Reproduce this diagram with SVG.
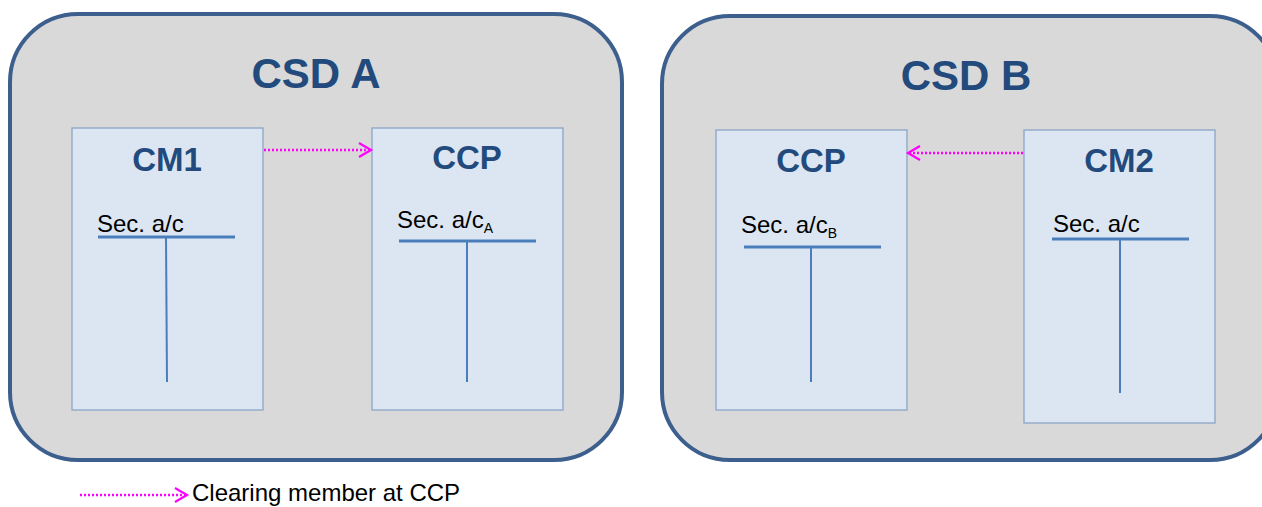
<svg xmlns="http://www.w3.org/2000/svg" width="1262" height="507" viewBox="0 0 1262 507">
  <style>
    .csd { fill: #d9d9d9; stroke: #3d5f8e; stroke-width: 4; }
    .box { fill: #dce6f2; stroke: #8ca5c6; stroke-width: 1.3; }
    .title { font-family: "Liberation Sans", Arial, sans-serif; font-weight: bold; fill: #224a7c; text-anchor: middle; }
    .big { font-size: 42px; }
    .mid { font-size: 33px; }
    .lbl { font-family: "Liberation Sans", Arial, sans-serif; font-size: 24px; fill: #000; }
    .sub { font-size: 14px; }
    .tline { stroke: #4a7ebb; stroke-width: 3; fill: none; }
    .vline { stroke: #4a7ebb; stroke-width: 2; fill: none; }
    .link { stroke: #ff00ff; stroke-width: 2.5; stroke-dasharray: 2 2; fill: none; }
  </style>
  <defs>
    <marker id="chev" markerWidth="16" markerHeight="16" refX="13" refY="8" orient="auto" markerUnits="userSpaceOnUse">
      <path d="M1,1 L13,8 L1,15" fill="none" stroke="#ff00ff" stroke-width="2.2"/>
    </marker>
  </defs>

  <g id="csd-a">
    <rect class="csd" x="10" y="14" width="612" height="446" rx="68" ry="68"/>
    <text class="title big" x="316" y="88">CSD A</text>
  </g>
  <g id="csd-b">
    <rect class="csd" x="662" y="16" width="616" height="444" rx="68" ry="68"/>
    <text class="title big" x="966" y="90">CSD B</text>
  </g>

  <g id="cm1">
    <rect class="box" x="72" y="128" width="191" height="282"/>
    <text class="title mid" x="167" y="171">CM1</text>
    <text class="lbl" x="97" y="232">Sec. a/c</text>
    <line class="tline" x1="98" y1="237" x2="235" y2="237"/>
    <line class="vline" x1="166" y1="237" x2="167" y2="382"/>
  </g>
  <g id="ccp-a">
    <rect class="box" x="372" y="128" width="191" height="282"/>
    <text class="title mid" x="467" y="169">CCP</text>
    <text class="lbl" x="397" y="228">Sec. a/c<tspan class="sub" dy="5">A</tspan></text>
    <line class="tline" x1="399" y1="241" x2="536" y2="241"/>
    <line class="vline" x1="467" y1="241" x2="467" y2="382"/>
  </g>
  <g id="ccp-b">
    <rect class="box" x="716" y="130" width="191" height="280"/>
    <text class="title mid" x="811" y="172">CCP</text>
    <text class="lbl" x="741" y="233">Sec. a/c<tspan class="sub" dy="5">B</tspan></text>
    <line class="tline" x1="744" y1="247" x2="881" y2="247"/>
    <line class="vline" x1="811" y1="247" x2="811" y2="382"/>
  </g>
  <g id="cm2">
    <rect class="box" x="1024" y="130" width="191" height="293"/>
    <text class="title mid" x="1119" y="172">CM2</text>
    <text class="lbl" x="1053" y="232">Sec. a/c</text>
    <line class="tline" x1="1052" y1="239" x2="1189" y2="239"/>
    <line class="vline" x1="1120" y1="239" x2="1120" y2="393"/>
  </g>

  <g id="connectors">
    <line class="link" x1="264" y1="150" x2="371" y2="150" marker-end="url(#chev)"/>
    <line class="link" x1="1023" y1="153" x2="908" y2="153" marker-end="url(#chev)"/>
  </g>

  <g id="legend">
    <line class="link" x1="80" y1="495" x2="187" y2="495" marker-end="url(#chev)"/>
    <text class="lbl" x="192" y="501">Clearing member at CCP</text>
  </g>
</svg>
